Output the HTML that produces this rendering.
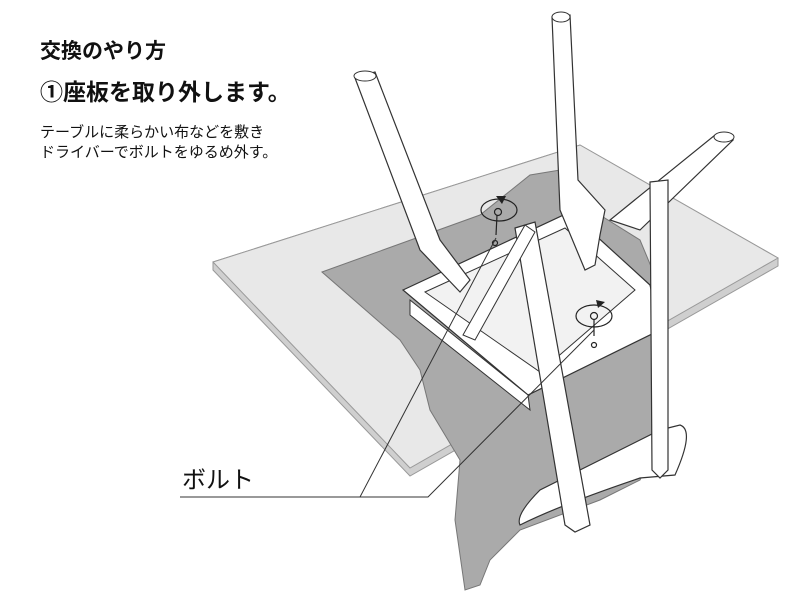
<!DOCTYPE html>
<html><head><meta charset="utf-8"><style>
html,body{margin:0;padding:0;background:#fff;width:800px;height:600px;overflow:hidden}
.t{position:absolute;left:40px;font-family:"Liberation Sans","Noto Sans CJK JP",sans-serif;color:#111;white-space:nowrap;line-height:1}
</style></head><body>
<svg width="800" height="600" style="position:absolute;left:0;top:0">
<!-- table -->
<polygon points="213,262 580,145 778,258 778,266 410,476 213,270" fill="#cfcfcf" stroke="#999" stroke-width="1"/>
<polygon points="213,262 580,145 778,258 410,468" fill="#e8e8e8" stroke="#999" stroke-width="1"/>
<!-- cloth -->
<path d="M322,272 L480,215 L530,175 L560,170 L600,215 L640,240 L665,300 L660,440 L640,480 L600,500 L520,530 L490,560 L480,585 L465,590 L455,520 L460,460 L430,410 L420,370 L400,340 Z" fill="#aaa" stroke="#777" stroke-width="1"/>
<!-- seat frame -->
<polygon points="403,290 570,212 650,285 660,330 528,395" fill="#fff" stroke="#333" stroke-width="1.2"/>
<polygon points="425,292 565,228 635,290 540,372" fill="#f2f2f2" stroke="#333" stroke-width="1"/>
<polygon points="410,300 528,395 530,410 410,315" fill="#fff" stroke="#333" stroke-width="1"/>
<!-- backrest bottom -->
<path d="M520,525 Q560,505 640,478 L675,475 Q695,430 680,425 L660,430 L540,490 Q515,515 520,525 Z" fill="#fff" stroke="#333" stroke-width="1.2"/>
<!-- back legs -->
<polygon points="355,78 375,72 440,240 470,280 460,292 420,250" fill="#fff" stroke="#333" stroke-width="1.2"/>
<ellipse cx="365" cy="76" rx="11" ry="5" fill="#fff" stroke="#333"/>
<polygon points="552,17 570,15 578,180 605,210 600,235 595,265 585,270 560,210" fill="#fff" stroke="#333" stroke-width="1.2"/>
<ellipse cx="561" cy="17" rx="9" ry="5" fill="#fff" stroke="#333"/>
<polygon points="715,135 733,140 640,230 610,220" fill="#fff" stroke="#333" stroke-width="1.2"/>
<ellipse cx="724" cy="137" rx="10" ry="5" fill="#fff" stroke="#333"/>
<!-- front legs -->
<polygon points="650,182 668,180 668,470 660,478 652,470" fill="#fff" stroke="#333" stroke-width="1.2"/>
<polygon points="515,228 535,222 590,525 575,532 565,525" fill="#fff" stroke="#333" stroke-width="1.2"/>
<polygon points="463,335 525,225 535,232 475,340" fill="#fff" stroke="#333" stroke-width="1"/>
<!-- screws -->
<g fill="none" stroke="#222" stroke-width="1.2">
<ellipse cx="499" cy="210" rx="18" ry="11"/><circle cx="498" cy="212" r="3.5"/><circle cx="495" cy="243" r="2.5"/>
<ellipse cx="594" cy="316" rx="18" ry="11"/><circle cx="594" cy="316" r="3.5"/><circle cx="594" cy="345" r="2.5"/>
<line x1="497" y1="215" x2="496" y2="235"/><line x1="594" y1="320" x2="594" y2="336"/>
</g>
<polygon points="496,196 506,196 502,204" fill="#222"/>
<polygon points="596,300 605,302 598,308" fill="#222"/>
<!-- leader -->
<polyline points="180,497 360,497 496,238" fill="none" stroke="#333" stroke-width="1"/>
<polyline points="360,497 428,497 594,330" fill="none" stroke="#333" stroke-width="1"/>
</svg>
<div class="t" style="top:41px;font-size:21px;font-weight:bold">交換のやり方</div>
<div class="t" style="top:81px;font-size:23px;font-weight:bold">①座板を取り外します。</div>
<div class="t" style="top:125px;font-size:15px">テーブルに柔らかい布などを敷き</div>
<div class="t" style="top:145px;font-size:15px">ドライバーでボルトをゆるめ外す。</div>
<div class="t" style="left:182px;top:469px;font-size:24px">ボルト</div>
</body></html>
